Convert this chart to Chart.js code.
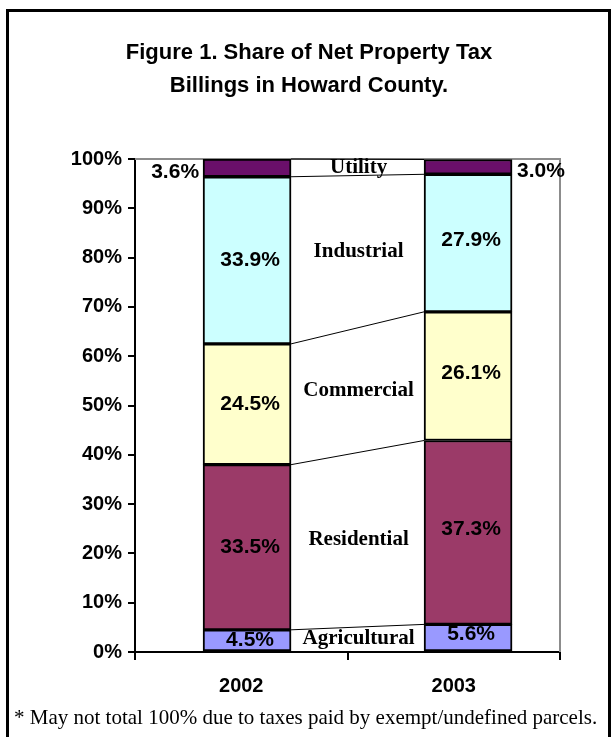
<!DOCTYPE html>
<html>
<head>
<meta charset="utf-8">
<title>Share of Net Property Tax Billings in Howard County</title>
<script src="https://cdn.jsdelivr.net/npm/chart.js@4"></script>
<style>
    html, body { margin: 0; padding: 0; background: #fff; }
    #wrap { position: relative; width: 613px; height: 737px; overflow: hidden; }
    #frame { position: absolute; left: 6px; top: 9px; width: 599px; height: 760px; border: 3px solid #000; border-bottom: none; }
    #title { position: absolute; left: 0; width: 618px; top: 35px; text-align: center; font: bold 22px "Liberation Sans", Arial, sans-serif; line-height: 33px; color: #000; }
    #note { position: absolute; left: 14px; top: 705px; font: 21px "Liberation Serif", "Times New Roman", serif; white-space: nowrap; color: #000; }
    canvas { position: absolute; left: 0; top: 0; }
</style>
</head>
<body>
<div id="wrap">
    <div id="frame"></div>
    <canvas id="taxChart" width="613" height="737"></canvas>
    <div id="title">Figure 1. Share of Net Property Tax<br>Billings in Howard County.</div>
    <div id="note">* May not total 100% due to taxes paid by exempt/undefined parcels.</div>
</div>
<script>
/* Share of net property tax billings, 2002 vs 2003 */
const YEARS = ['2002', '2003'];
const SECTORS = ['Agricultural', 'Residential', 'Commercial', 'Industrial', 'Utility'];
const AGRICULTURAL = [4.5, 5.6];
const RESIDENTIAL = [33.5, 37.3];
const COMMERCIAL = [24.5, 26.1];
const INDUSTRIAL = [33.9, 27.9];
const UTILITY = [3.6, 3.0];
const Y_TICKS = [0, 10, 20, 30, 40, 50, 60, 70, 80, 90, 100];

const SERIES = [AGRICULTURAL, RESIDENTIAL, COMMERCIAL, INDUSTRIAL, UTILITY];
const COLORS = ['#9999FF', '#9B3A68', '#FFFFCC', '#CCFFFF', '#6A0F6A'];

const SANS = '"Liberation Sans", Arial, sans-serif';
const SERIF = '"Liberation Serif", "Times New Roman", serif';

// gray frame, connector lines, sector names and value labels
const overlay = {
    id: 'overlay',
    beforeDatasetsDraw(chart) {
        const { ctx, chartArea: a } = chart;
        ctx.save();
        ctx.strokeStyle = '#8c8c8c';
        ctx.lineWidth = 2;
        ctx.beginPath();
        ctx.moveTo(a.left, a.top);
        ctx.lineTo(a.right, a.top);
        ctx.lineTo(a.right, a.bottom);
        ctx.stroke();
        ctx.restore();
    },
    afterDatasetsDraw(chart) {
        const ctx = chart.ctx;
        const last = chart.data.datasets.length - 1;
        ctx.save();

        // lines joining segment tops
        ctx.strokeStyle = '#000';
        ctx.lineWidth = 1;
        chart.data.datasets.forEach((ds, i) => {
            const [p, q] = chart.getDatasetMeta(i).data;
            ctx.beginPath();
            ctx.moveTo(p.x + p.width / 2, p.y);
            ctx.lineTo(q.x - q.width / 2, q.y);
            ctx.stroke();
        });

        ctx.fillStyle = '#000';
        ctx.textBaseline = 'middle';

        // sector names between bars
        ctx.font = 'bold 21px ' + SERIF;
        ctx.textAlign = 'center';
        chart.data.datasets.forEach((ds, i) => {
            const [p, q] = chart.getDatasetMeta(i).data;
            const mid = ((p.y + p.base) / 2 + (q.y + q.base) / 2) / 2;
            ctx.fillText(ds.label, (p.x + q.x) / 2 + 1, mid);
        });

        // percentages
        ctx.font = 'bold 21px ' + SANS;
        chart.data.datasets.forEach((ds, i) => {
            chart.getDatasetMeta(i).data.forEach((bar, j) => {
                const txt = ds.data[j].y.toFixed(1) + '%';
                const mid = (bar.y + bar.base) / 2;
                if (i === last) {
                    ctx.textAlign = j === 0 ? 'right' : 'left';
                    const x = j === 0 ? bar.x - bar.width / 2 - 4 : bar.x + bar.width / 2 + 5;
                    ctx.fillText(txt, x, mid + 4);
                } else {
                    ctx.textAlign = 'center';
                    ctx.fillText(txt, bar.x + 3, mid - (j === 1 ? 3 : 0));
                }
            });
        });
        ctx.restore();
    }
};

new Chart(document.getElementById('taxChart'), {
    type: 'bar',
    data: {
        datasets: SECTORS.map((name, i) => ({
            label: name,
            data: SERIES[i].map((v, j) => ({ x: j, y: v })),
            backgroundColor: COLORS[i],
            borderColor: '#000',
            borderWidth: 2,
            borderSkipped: false,
            barThickness: 88
        }))
    },
    options: {
        responsive: false,
        animation: false,
        events: [],
        layout: { padding: { left: 0, right: 53, top: 159, bottom: 35 } },
        plugins: { legend: { display: false }, tooltip: { enabled: false }, title: { display: false } },
        scales: {
            x: {
                type: 'linear',
                stacked: true,
                offset: false,
                min: -0.507,
                max: 1.416,
                display: false
            },
            years: {
                type: 'category',
                labels: YEARS,
                position: 'bottom',
                offset: true,
                afterFit: s => { s.height = 50; },
                grid: { offset: true, drawOnChartArea: false, drawTicks: true, tickLength: 8, color: '#000', lineWidth: 2 },
                border: { display: true, color: '#000', width: 2 },
                ticks: { color: '#000', font: { family: SANS, size: 20, weight: 'bold' }, padding: 14 }
            },
            y: {
                stacked: true,
                min: 0,
                max: 100,
                afterFit: s => { s.width = 135; },
                afterBuildTicks: s => { s.ticks = Y_TICKS.map(v => ({ value: v })); },
                grid: { drawOnChartArea: false, drawTicks: true, tickLength: 7, color: '#000', lineWidth: 2 },
                border: { display: true, color: '#000', width: 2 },
                ticks: { color: '#000', font: { family: SANS, size: 20, weight: 'bold' }, padding: 6, callback: v => v + '%' }
            }
        }
    },
    plugins: [overlay]
});
</script>
</body>
</html>
